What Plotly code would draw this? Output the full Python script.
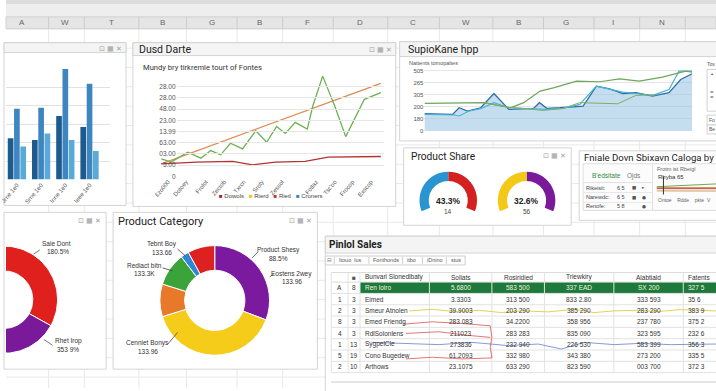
import numpy as np
import plotly.graph_objects as go

W, H = 716, 391
def px(x): return x / W
def py(y): return 1 - y / H

# ---------------- data ----------------
sheet_cols = ["A", "W", "T", "B", "G", "B", "F", "D", "C", "W", "B", "G", "I", "N"]

bar_categories = ["Jrne 1e0", "Srne 1e0", "Inne 1e0", "Ieee 1e0"]
bar_dark = [45, 43, 69, 57]
bar_mid = [77, 78, 120, 104]
bar_light = [36, 50, 43, 31]

line_green_x = [0, 0.9, 2.4, 3.6, 4.5, 5.4, 6.3, 7.4, 8.6, 9.6, 10.5, 11.3, 12.2, 13.3, 13.8, 14.7, 15.8, 16.8, 18.5, 20]
line_green_y = [1.56, 1.27, 2.15, 1.62, 2.30, 1.92, 2.95, 2.45, 4.07, 3.04, 4.45, 3.83, 4.81, 4.22, 6.28, 8.94, 6.28, 3.54, 6.87, 7.46]
line_trend_x = [0, 20]
line_trend_y = [1.12, 8.29]
line_red_x = [0, 3.2, 6.5, 8.3, 10.4, 13.1, 15.2, 20]
line_red_y = [1.12, 1.27, 1.33, 1.03, 1.27, 1.33, 1.71, 1.77]
line_ytick_vals = [0, 1, 2, 3, 4, 5, 6, 7, 8]
line_ytick_text = ["0", "5.00", "03.00", "63.00", "13.99", "23.00", "48.00", "28.00", "28.00"]
line_xtick_vals = [0.6, 2.25, 4.06, 5.71, 7.5, 9.17, 10.98, 14.1, 15.8, 17.4, 19.1]
line_xtick_text = ["£zo000", "Dotoey", "Frolot", "Zectob", "Txrcn", "Sroty", "Zessol", "Fotlaz", "Tsc'oo", "Frocop", "Exscop"]
line_legend = ["Dowols", "Rierd", "Rietl", "Croners"]

area_x = [0, 2.1, 2.59, 3.21, 4.2, 5.19, 6.3, 7.41, 8.15, 8.59, 9.14, 10.12, 11.11, 11.85, 12.84, 13.83, 14.81, 15.8, 17.04, 18.27, 19.14, 20]
area_y = [1.43, 1.37, 1.92, 1.65, 1.92, 3.10, 1.79, 1.87, 1.87, 2.34, 1.87, 1.92, 1.98, 2.06, 3.71, 3.49, 3.10, 3.16, 2.88, 3.16, 4.26, 4.73]
cyan_x = [0, 2.22, 2.59, 3.33, 4.2, 5.19, 6.3, 7.9, 9.14, 10.37, 11.6, 12.84, 14.81, 15.8, 17.04, 18.27, 19.01, 20]
cyan_y = [1.37, 1.32, 1.24, 1.65, 1.84, 2.34, 1.92, 1.87, 1.79, 1.87, 2.2, 3.71, 3.21, 3.10, 2.94, 3.43, 4.95, 4.95]
green_x = [0, 4.44, 6.42, 7.41, 8.64, 9.63, 11.36, 13.09, 14.57, 16.05, 17.78, 19.51, 20]
green_y = [2.28, 2.34, 1.92, 2.34, 3.30, 3.57, 4.12, 4.07, 4.31, 4.12, 4.45, 4.95, 4.86]
green2_x = [4.44, 6.17, 8.89, 10.37, 11.6, 14.44, 15.8, 17.28]
green2_y = [2.34, 1.98, 1.70, 1.87, 2.34, 2.25, 2.94, 2.99]
area_ytick_text = ["0", "180", "200", "305", "265", "505"]

gauge_left = [50, 50]      # blue, red halves
gauge_right = [50, 50]     # yellow, purple halves
gauge_texts = [("43.3%", "14"), ("32.6%", "56")]

side_labels = ["Sale Dont", "Rhet Irop"]
side_pcts = ["180.5%", "353 9%"]
side_values = [65, 35]

cat_values = [30.8, 39.5, 9.6, 9.8, 2.4, 8.0]
cat_colors = ["#7b1a9e", "#f5cc1a", "#e8792a", "#3aa33a", "#2f86d6", "#dd2020"]

mini_x = [0, 2, 4, 6, 8, 10]
mini_green = [5.6, 6.0, 6.6, 7.0, 7.2, 7.6]
mini_orange = [5.0, 5.1, 5.0, 5.1, 5.0, 5.0]
mini_red = [4.2, 4.3, 4.2, 4.2, 4.3, 4.2]
mini_tan = [2.6, 2.6, 2.5, 2.6, 2.6, 2.5]

tbl_header = ["", "■", "Bunvari Slonedlbaty", "Soliats", "Rosiridied", "Triewkiry", "Alabtiald", "Fatents"]
tbl_idx = ["A", "1", "2", "8", "4", "1", "5", "2"]
tbl_n = ["8", "3", "3", "3", "3", "13", "19", "10"]
tbl_name = ["Ren loiro", "Eimed", "Smeur Atnolen", "Emed Friendg", "RdlSolonlens", "SygpelCle", "Cono Bugedew", "Arthows"]
tbl_c3 = ["5.6800", "3.3303", "39.9003", "283 083", "211023", "273836", "61.2093", "23.1075"]
tbl_c4 = ["583 500", "313 500", "203 290", "34.2200", "283 283", "232 940", "332 980", "633 290"]
tbl_c5 = ["337 EAD", "833 2.80", "385 290", "358 956", "835 090", "226 530", "343 380", "823 590"]
tbl_c6 = ["SX 200", "333 593", "283 290", "237 780", "323 595", "583 399", "273 200", "003 700"]
tbl_c7 = ["327 5", "35 6", "383 9", "375 2", "232 6", "356 3", "335 5", "372 3"]

spark_yellow_x = [78.7, 102, 125, 148.7, 172, 192, 218.7, 245, 265, 285, 308.7, 328.7, 352, 388]
spark_yellow_y = [38.3, 36.7, 39, 37.7, 40, 38.3, 39.3, 36.7, 40, 38.3, 37.7, 39, 37, 38.3]
spark_blue_x = [42, 75.3, 108.7, 142, 178.7, 208.7, 232, 255.3, 285.3, 312, 342, 388]
spark_blue_y = [70, 71, 72.3, 70, 73.3, 71.7, 76.7, 70, 72.3, 71, 72.3, 71.7]
spark_red_x = [72, 102, 132, 160.3, 162, 160.3, 162, 132, 102, 75.3, None, 75.3, 108.7, 135.3, 160.3]
spark_red_y = [51.7, 49.3, 51, 53.3, 65, 75, 85.7, 86.7, 85, 86.7, None, 61, 59.3, 62.7, 65]

# ---------------- helpers ----------------
shapes, annotations = [], []
SANS = "Liberation Sans, Arial, sans-serif"
TITLE = "Roboto, Liberation Sans, sans-serif"

def rect(x0, y0, x1, y1, fill="white", line="#d4d4d4", lw=1, layer="below"):
    shapes.append(dict(type="rect", xref="paper", yref="paper", x0=px(x0), x1=px(x1),
                       y0=py(y1), y1=py(y0), fillcolor=fill,
                       line=dict(color=line, width=lw) if line else dict(width=0), layer=layer))

def seg(x0, y0, x1, y1, color="#e3e3e3", lw=1, layer="below"):
    shapes.append(dict(type="line", xref="paper", yref="paper", x0=px(x0), x1=px(x1),
                       y0=py(y0), y1=py(y1), line=dict(color=color, width=lw), layer=layer))

def ann(x, y, text, size=7, color="#333", xanchor="left", family=SANS, **kw):
    annotations.append(dict(x=px(x), y=py(y), xref="paper", yref="paper", text=text,
                            showarrow=False, xanchor=xanchor, yanchor="middle", borderpad=0,
                            font=dict(size=size, color=color, family=family), **kw))

def icons(x, y):
    ann(x, y, "⊡ ▦ ✕", size=7, color="#a0a0a0", xanchor="right", family="DejaVu Sans")

# ---------------- spreadsheet background ----------------
col_bounds = [43, 79, 134, 182, 233, 279, 330, 385, 437, 491, 542, 593, 639, 685]
for yy in np.arange(29, 392, 19.5):
    seg(0, yy, W, yy, "#e8e8e8")
for xb in col_bounds:
    seg(xb, 29, xb, H, "#e8e8e8")
rect(0, 0, W, 4, fill="#dcdcdc", line=None)
rect(0, 4, W, 17, fill="#eeeeee", line=None)
rect(0, 17, W, 29, fill="#e5e5e5", line="#d0d0d0")
for xb in col_bounds:
    seg(xb, 17, xb, 29, "#cccccc")
letter_x = [16, 60, 106, 158, 208, 256, 304, 357, 410, 464, 517, 565, 612, 662]
for lx, lt in zip(letter_x, sheet_cols):
    ann(lx, 23, lt, size=8, color="#666", xanchor="center")

# ---------------- panels ----------------
rect(-2, 43, 121, 207)
rect(-2, 43, 121, 53, fill="#f4f4f4", line="#d4d4d4")
icons(118, 49)
rect(128, 43, 393, 208)
rect(128, 43, 393, 56, fill="#f4f4f4", line="#d4d4d4")
icons(390, 50)
ann(133, 50, "Dusd Darte", size=10.5, color="#222", family=TITLE)
ann(137, 68, "Mundy bry tirkremle tourt of Fontes", size=7.6, color="#333", family=TITLE)
rect(397, 42, 722, 142)
rect(397, 42, 722, 57, fill="#f4f4f4", line="#d4d4d4")
ann(404, 50, "SupioKane hpp", size=10.5, color="#222", family=TITLE)
ann(405, 63, "Nattents tomopaltes", size=5.5, color="#555")
rect(707, 70, 722, 112, fill="white", line="#d0d0d0")
rect(707, 116, 722, 126, fill="white", line="#d0d0d0")
rect(707, 126, 722, 135, fill="white", line="#d0d0d0")
ann(706, 64, "Tos", size=5, color="#555")
ann(710, 75, "•", size=6, color="#333")
ann(709, 93, "=", size=6, color="#555")
ann(709, 98, "=", size=6, color="#555")
ann(708, 121, "Fo", size=5, color="#555")
ann(708, 130, "Be", size=5, color="#555")
rect(401, 149, 570, 227)
ann(407, 158, "Product Share", size=10.2, color="#222", family=TITLE)
icons(566, 157)
rect(578, 152, 722, 222)
ann(582, 159, "Fniale Dovn Sbixavn Caloga by", size=9.6, color="#222", family=TITLE)
rect(582, 165, 722, 212, fill="#fcfcfc", line="#dedede")
seg(652, 165, 652, 212, "#e0e0e0")
ann(590, 177, "B'edsitate", size=6.5, color="#2e8b3e")
ann(625, 177, "Ojds", size=6.5, color="#777")
seg(582, 184, 652, 184, "#e0e0e0")
seg(582, 194, 652, 194, "#e8e8e8")
seg(582, 204, 652, 204, "#e8e8e8")
for yy, lab, val, i1, i2 in [(189, "Rikeisit:", "6 5", "■", "▸"), (199, "Narewdc:", "6 5", "■", "●"), (208, "Renofe:", "5 8", "", "●")]:
    ann(584, yy, lab, size=5.5, color="#444")
    ann(620, yy, val, size=5.5, color="#444", xanchor="center")
    ann(633, yy, i1, size=4.5, color="#555", xanchor="center", family="DejaVu Sans")
    ann(643, yy, i2, size=4.5, color="#555", xanchor="center", family="DejaVu Sans")
ann(655, 170, "Frotm ist Rbeigl", size=5.5, color="#666")
ann(657, 178, "Rhyba 65", size=6, color="#333")
seg(663, 178, 663, 196, "#333", lw=1, layer="above")
ann(657, 202, "Ontoe    Rdde    pkte  V", size=5, color="#666")
rect(-2, 214, 101, 372)
icons(97, 223)
rect(108, 214, 314, 372)
ann(112, 223, "Product Category", size=11, color="#222", family=TITLE)
icons(310, 223)
rect(322, 238, 722, 395)
rect(322, 238, 722, 255, fill="#f4f4f4", line="#d4d4d4")
ann(325, 246, "<b>Pinlol Sales</b>", size=10, color="#222", family=TITLE)
rect(322, 258, 463, 267, fill="white", line="#cfcfcf")
for xs in [331, 366, 400, 420, 444]:
    seg(xs, 259, xs, 266, "#cfcfcf")
ann(326, 262.5, "⊟", size=5.5, color="#777", xanchor="center", family="DejaVu Sans")
for xt, tt in [(335, "Itouo  lus"), (369, "Fonthonds"), (403, "itbo"), (424, "iDnino"), (448, "stus")]:
    ann(xt, 262.5, tt, size=5.5, color="#555")
seg(328, 385, 716, 385, "#e4e4e4", lw=2)

# ---------------- table (grid + text from the data lists) ----------------
tcol_bounds = [328, 345, 357, 427, 490, 543, 613, 683, 722]
row_h = 11.4
head_top, head_bot = 274.6, 284.3
rows_center = [head_bot + row_h * (i + 0.5) for i in range(len(tbl_idx))]
table_bottom = head_bot + row_h * len(tbl_idx)
rect(tcol_bounds[2], head_bot, 722, head_bot + row_h, fill="#1d7a3c", line=None)
seg(328, head_top, 722, head_top, "#dcdcdc")
seg(328, head_bot, 722, head_bot, "#dcdcdc")
for i in range(1, len(tbl_idx) + 1):
    seg(328, head_bot + row_h * i, 722, head_bot + row_h * i, "#e2e2e2")
for xb in tcol_bounds[:-1]:
    seg(xb, head_top, xb, table_bottom, "#e2e2e2")

table_cols = [tbl_idx, tbl_n, tbl_name, tbl_c3, tbl_c4, tbl_c5, tbl_c6, tbl_c7]
for ci, (col_vals, head) in enumerate(zip(table_cols, tbl_header)):
    x0, x1 = tcol_bounds[ci], tcol_bounds[ci + 1]
    if ci == 2:
        xa, anchor = x0 + 4, "left"
    elif ci == 7:
        xa, anchor = x0 + 4, "left"
    else:
        xa, anchor = (x0 + x1) / 2, "center"
    ann(xa, (head_top + head_bot) / 2, head, size=6.5, color="#555" if ci == 1 else "#333", xanchor=anchor)
    for ri, v in enumerate(col_vals):
        color = "#f4f4dc" if (ri == 0 and ci >= 2) else "#333"
        ann(xa, rows_center[ri], v, size=6.5, color=color, xanchor=anchor)

# ---------------- traces ----------------
fig = go.Figure()

for vals, col in [(bar_dark, "#1d5b8f"), (bar_mid, "#3d86c0"), (bar_light, "#5aaad8")]:
    fig.add_trace(go.Bar(x=bar_categories, y=vals, marker=dict(color=col, line=dict(width=0)),
                         xaxis="x", yaxis="y", showlegend=False, hoverinfo="skip"))

fig.add_trace(go.Scatter(x=[], y=[], xaxis="x7", yaxis="y7", showlegend=False))
fig.add_trace(go.Scatter(x=line_trend_x, y=line_trend_y, mode="lines", line=dict(color="#e08a50", width=1.3),
                         xaxis="x2", yaxis="y2", showlegend=False, hoverinfo="skip"))
fig.add_trace(go.Scatter(x=line_red_x, y=line_red_y, mode="lines", line=dict(color="#b5322e", width=1.3),
                         xaxis="x2", yaxis="y2", showlegend=False, hoverinfo="skip"))
fig.add_trace(go.Scatter(x=line_green_x, y=line_green_y, mode="lines", line=dict(color="#6bb150", width=1.3),
                         xaxis="x2", yaxis="y2", showlegend=False, hoverinfo="skip"))
leg_cols = ["#b22222", "#f1c40f", "#c0392b", "#2e86c1"]
leg_txt = "   ".join(f'<span style="color:{c}">■</span> {n}' for c, n in zip(leg_cols, line_legend))
ann(267, 198, leg_txt, size=6, color="#444", xanchor="center")

fig.add_trace(go.Scatter(x=area_x, y=area_y, mode="lines", fill="tozeroy", fillcolor="rgba(150,195,225,0.55)",
                         line=dict(color="#2f6fa3", width=1.3), xaxis="x3", yaxis="y3",
                         showlegend=False, hoverinfo="skip"))
fig.add_trace(go.Scatter(x=cyan_x, y=cyan_y, mode="lines", line=dict(color="#45b3da", width=1.2),
                         xaxis="x3", yaxis="y3", showlegend=False, hoverinfo="skip"))
fig.add_trace(go.Scatter(x=green_x, y=green_y, mode="lines", line=dict(color="#6ea65a", width=1.2),
                         xaxis="x3", yaxis="y3", showlegend=False, hoverinfo="skip"))
fig.add_trace(go.Scatter(x=green2_x, y=green2_y, mode="lines", line=dict(color="#7fae68", width=1),
                         xaxis="x3", yaxis="y3", showlegend=False, hoverinfo="skip"))

arc_span = 224.0
for g, cx, cols, (t1, t2) in [(gauge_left, 446, ("#2a94d0", "#d42020"), gauge_texts[0]),
                               (gauge_right, 525, ("#f4c816", "#7a1a9a"), gauge_texts[1])]:
    gap = (g[0] + g[1]) * (360 - arc_span) / arc_span
    r = 29
    fig.add_trace(go.Pie(values=[g[1], gap, g[0]], sort=False, direction="clockwise", rotation=0,
                         hole=0.68, marker=dict(colors=[cols[1], "rgba(0,0,0,0)", cols[0]], line=dict(width=0)),
                         textinfo="none", hoverinfo="skip", showlegend=False,
                         domain=dict(x=[px(cx - r), px(cx + r)], y=[py(202 + r), py(202 - r)])))
    ann(cx, 203, f"<b>{t1}</b>", size=8.5, color="#222", xanchor="center")
    ann(cx, 213, t2, size=6.5, color="#444", xanchor="center")

for ys, c in [(mini_tan, "#c8a060"), (mini_red, "#c04040"), (mini_orange, "#e0904a"), (mini_green, "#6aa860")]:
    fig.add_trace(go.Scatter(x=mini_x, y=ys, mode="lines", line=dict(color=c, width=1),
                             xaxis="x4", yaxis="y4", showlegend=False, hoverinfo="skip"))

def ring(a0, a1, r_out, r_in, n=80):
    t = np.linspace(a0, a1, n)
    rad = np.deg2rad(90 - t)
    xo, yo = r_out * np.cos(rad), r_out * np.sin(rad)
    xi, yi = r_in * np.cos(rad[::-1]), r_in * np.sin(rad[::-1])
    return np.concatenate([xo, xi, xo[:1]]), np.concatenate([yo, yi, yo[:1]])

start = 245.0
tot = sum(side_values)
for v, c in zip(side_values, ["#e0201c", "#7a1a9a"]):
    a1 = start + 360 * v / tot
    xs, ys = ring(start, a1, 54, 29)
    fig.add_trace(go.Scatter(x=xs, y=ys, mode="lines", fill="toself", fillcolor=c,
                             line=dict(color="white", width=1), xaxis="x5", yaxis="y5",
                             showlegend=False, hoverinfo="skip"))
    start = a1
ann(35, 245, side_labels[0], size=6.5, color="#333")
ann(40, 253, side_pcts[0], size=6.5, color="#333")
seg(28, 256, 34, 252, "#555", 0.8, "above")
ann(48, 344, side_labels[1], size=6.5, color="#333")
ann(50, 352, side_pcts[1], size=6.5, color="#333")
seg(38, 342, 47, 348, "#555", 0.8, "above")

fig.add_trace(go.Pie(values=cat_values, sort=False, direction="clockwise", rotation=0, hole=0.55,
                     marker=dict(colors=cat_colors, line=dict(color="white", width=1)),
                     textinfo="none", hoverinfo="skip", showlegend=False,
                     domain=dict(x=[px(155), px(266)], y=[py(358), py(247.5)])))
for x, y1, t1, t2 in [(275, 252, "Product Shesy", "88.5%"), (288, 276, "Eostens 2wey", "133.96"),
                      (157, 246, "Tebnt Boy", "133.66"), (140, 268, "Rediact bitn", "133.3K"),
                      (143, 346, "Cenniet Bonys", "133.96")]:
    ann(x, y1, t1, size=6.5, color="#333", xanchor="center")
    ann(x, y1 + 8, t2, size=6.5, color="#333", xanchor="center")
for l in [(248, 260, 254, 254), (266, 279, 270, 276), (173, 251, 181, 258), (158, 270, 168, 273), (163, 347, 173, 335)]:
    seg(*l, color="#444", lw=0.8, layer="above")

fig.add_trace(go.Scatter(x=spark_red_x, y=spark_red_y, mode="lines", line=dict(color="rgba(215,60,60,0.7)", width=1),
                         xaxis="x6", yaxis="y6", showlegend=False, hoverinfo="skip"))
fig.add_trace(go.Scatter(x=spark_yellow_x, y=spark_yellow_y, mode="lines", line=dict(color="rgba(220,200,40,0.8)", width=1),
                         xaxis="x6", yaxis="y6", showlegend=False, hoverinfo="skip"))
fig.add_trace(go.Scatter(x=spark_blue_x, y=spark_blue_y, mode="lines", line=dict(color="rgba(70,100,190,0.65)", width=1),
                         xaxis="x6", yaxis="y6", showlegend=False, hoverinfo="skip"))

hidden = dict(visible=False, showgrid=False, zeroline=False)
fig.update_layout(
    width=W, height=H, margin=dict(l=0, r=0, t=0, b=0),
    paper_bgcolor="white", plot_bgcolor="rgba(0,0,0,0)",
    font=dict(family=SANS, size=7, color="#444"),
    barmode="group", bargap=0.22, bargroupgap=0.1,
    showlegend=False,
    xaxis=dict(domain=[px(0), px(105)], type="category", range=[-0.45, 3.85], tickangle=-50,
               tickfont=dict(size=6, color="#555"), showgrid=False, zeroline=False, ticks="",
               anchor="y"),
    yaxis=dict(domain=[py(181), py(65)], range=[0, 125], tickvals=[0, 20, 40, 60, 80, 100],
               showticklabels=False, gridcolor="#e2e2e2", zeroline=False, anchor="x"),
    xaxis2=dict(domain=[px(155), px(381)], range=[-0.15, 20.27], tickvals=line_xtick_vals,
                ticktext=line_xtick_text, tickangle=-50, tickfont=dict(size=6, color="#555"),
                showgrid=False, zeroline=False, ticks="", anchor="y2"),
    yaxis2=dict(domain=[py(177.7), py(74)], range=[0, 9.18], showgrid=False, zeroline=False,
                showticklabels=False, anchor="x2"),
    xaxis7=dict(domain=[px(172), px(381)], range=[0, 1], visible=False, anchor="y7"),
    yaxis7=dict(domain=[py(177.7), py(74)], range=[0, 9.18], tickvals=line_ytick_vals,
                ticktext=line_ytick_text, tickfont=dict(size=6.5, color="#555"),
                gridcolor="#e6e6e6", zeroline=False, anchor="x7"),
    xaxis3=dict(domain=[px(422), px(692)], range=[0, 20], showticklabels=False, showgrid=False,
                zeroline=False, anchor="y3"),
    yaxis3=dict(domain=[py(132), py(68)], range=[0, 5.25], tickvals=[0, 1, 2, 3, 4, 5],
                ticktext=area_ytick_text, tickfont=dict(size=6, color="#555"),
                gridcolor="#e6e6e6", zeroline=False, anchor="x3"),
    xaxis4=dict(domain=[px(656), px(716)], range=[0, 10], anchor="y4", **hidden),
    yaxis4=dict(domain=[py(196), py(182)], range=[0, 10], anchor="x4", **hidden),
    xaxis5=dict(domain=[px(0), px(100)], range=[2, 102], anchor="y5", **hidden),
    yaxis5=dict(domain=[py(372), py(214)], range=[-70, 88], anchor="x5", **hidden),
    xaxis6=dict(domain=[px(328), 1], range=[0, 388], anchor="y6", **hidden),
    yaxis6=dict(domain=[0, py(275)], range=[116, 0], anchor="x6", **hidden),
    shapes=shapes, annotations=annotations,
)

fig.write_html("out.html", config={"displayModeBar": False},
               post_script="document.body.style.margin='0';document.body.style.overflow='hidden';")
